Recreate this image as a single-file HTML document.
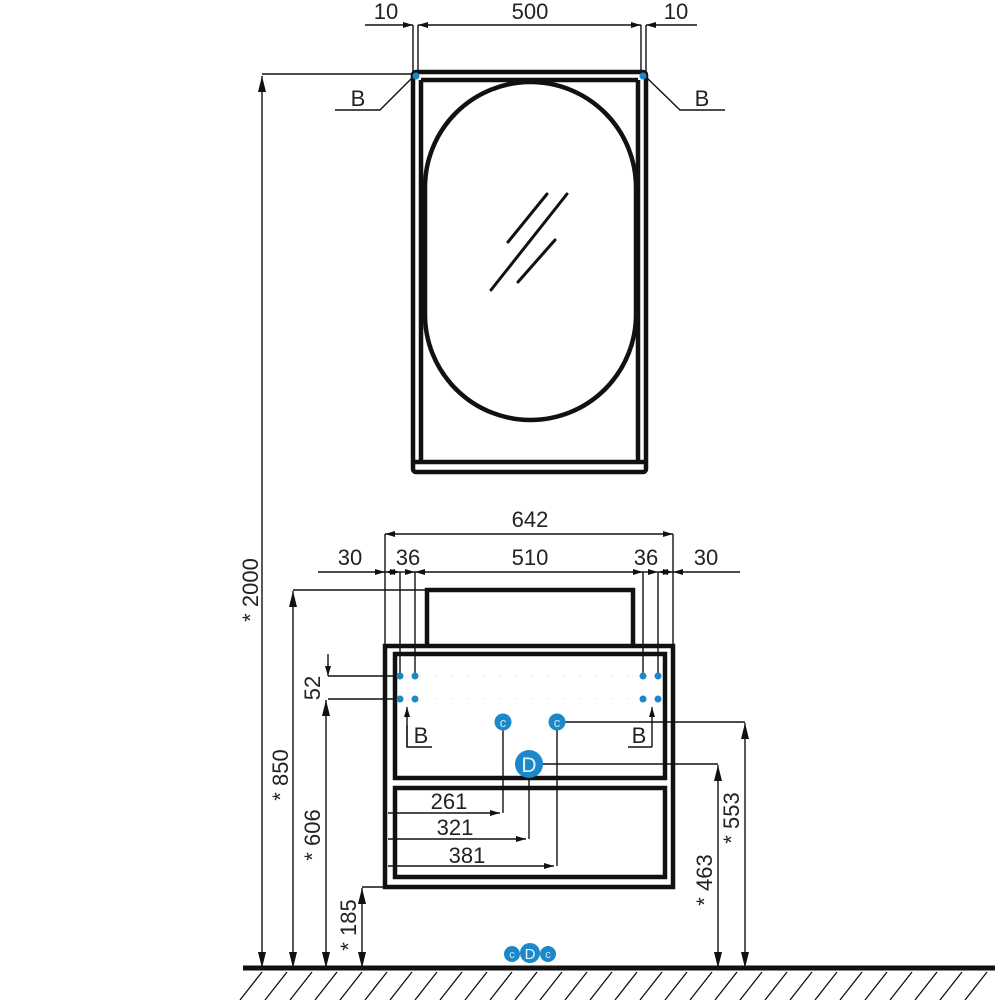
<!DOCTYPE html>
<html><head><style>
html,body{margin:0;padding:0;background:#fff;}
svg{display:block}
text{font-family:"Liberation Sans",sans-serif;font-size:22px;fill:#222;}
</style></head><body>
<svg width="1000" height="1000" viewBox="0 0 1000 1000" xmlns="http://www.w3.org/2000/svg">
<defs>
<marker id="a" viewBox="0 0 10 6" refX="10" refY="3" markerWidth="10" markerHeight="6" orient="auto-start-reverse" markerUnits="userSpaceOnUse"><path d="M0,0 L10,3 L0,6 z" fill="#111"/></marker>
<marker id="b" viewBox="0 0 16 8" refX="16" refY="4" markerWidth="16" markerHeight="8" orient="auto-start-reverse" markerUnits="userSpaceOnUse"><path d="M0,0 L16,4 L0,8 z" fill="#111"/></marker>
</defs>
<g stroke="#111" stroke-width="1.4" fill="none">
<line x1="365" y1="25" x2="413" y2="25" marker-end="url(#a)"/>
<line x1="418" y1="25" x2="641" y2="25" marker-start="url(#a)" marker-end="url(#a)"/>
<line x1="646" y1="25" x2="697" y2="25" marker-start="url(#a)"/>
<line x1="413" y1="25" x2="413" y2="72"/><line x1="418" y1="25" x2="418" y2="72"/>
<line x1="641" y1="25" x2="641" y2="72"/><line x1="646" y1="25" x2="646" y2="72"/>
<polyline points="413,77 380,110 335,110"/>
<polyline points="646,77 680,110 725,110"/>
<line x1="262" y1="74" x2="413" y2="74"/>
<line x1="262" y1="76" x2="262" y2="968" marker-start="url(#b)" marker-end="url(#b)"/>
<line x1="385" y1="534" x2="673" y2="534" marker-start="url(#a)" marker-end="url(#a)"/>
<line x1="385" y1="534" x2="385" y2="646"/><line x1="673" y1="534" x2="673" y2="646"/>
<line x1="318" y1="572" x2="385" y2="572" marker-end="url(#a)"/>
<line x1="385" y1="572" x2="400" y2="572" marker-start="url(#a)" marker-end="url(#a)"/>
<line x1="400" y1="572" x2="415" y2="572" marker-end="url(#a)"/>
<line x1="415" y1="572" x2="643" y2="572" marker-start="url(#a)" marker-end="url(#a)"/>
<line x1="643" y1="572" x2="658" y2="572" marker-end="url(#a)"/>
<line x1="658" y1="572" x2="673" y2="572" marker-start="url(#a)" marker-end="url(#a)"/>
<line x1="673" y1="572" x2="740" y2="572" marker-start="url(#a)"/>
<line x1="400" y1="572" x2="400" y2="676"/><line x1="415" y1="572" x2="415" y2="676"/>
<line x1="643" y1="572" x2="643" y2="676"/><line x1="658" y1="572" x2="658" y2="676"/>
<line x1="328" y1="676" x2="398" y2="676"/><line x1="328" y1="699" x2="398" y2="699"/>
<line x1="328" y1="654" x2="328" y2="676" marker-end="url(#a)"/>
<line x1="293" y1="590" x2="427" y2="590"/>
<line x1="293" y1="591" x2="293" y2="968" marker-start="url(#b)" marker-end="url(#b)"/>
<line x1="326" y1="700" x2="326" y2="968" marker-start="url(#b)" marker-end="url(#b)"/>
<polyline points="385,887 362,887"/>
<line x1="362" y1="888" x2="362" y2="968" marker-start="url(#b)" marker-end="url(#b)"/>
<polyline points="407,725 407,747 432,747"/>
<line x1="407" y1="747" x2="407" y2="707" marker-end="url(#a)"/>
<polyline points="652,747 628,747"/>
<line x1="652" y1="747" x2="652" y2="707" marker-end="url(#a)"/>
<polyline points="503,722 503,813"/><line x1="388" y1="813" x2="500" y2="813" marker-end="url(#a)"/>
<polyline points="529,764 529,839"/><line x1="388" y1="839" x2="526" y2="839" marker-end="url(#a)"/>
<polyline points="557,722 557,866"/><line x1="388" y1="866" x2="554" y2="866" marker-end="url(#a)"/>
<line x1="557" y1="722" x2="745" y2="722"/>
<line x1="745" y1="723" x2="745" y2="968" marker-start="url(#b)" marker-end="url(#b)"/>
<line x1="529" y1="764" x2="718" y2="764"/>
<line x1="718" y1="765" x2="718" y2="968" marker-start="url(#b)" marker-end="url(#b)"/>
<g stroke-width="1.3">
<path d="M262,972 l-22,28 M287,972 l-22,28 M312,972 l-22,28 M337,972 l-22,28 M362,972 l-22,28 M387,972 l-22,28 M412,972 l-22,28 M437,972 l-22,28 M462,972 l-22,28 M487,972 l-22,28 M512,972 l-22,28 M537,972 l-22,28 M562,972 l-22,28 M587,972 l-22,28 M612,972 l-22,28 M637,972 l-22,28 M662,972 l-22,28 M687,972 l-22,28 M712,972 l-22,28 M737,972 l-22,28 M762,972 l-22,28 M787,972 l-22,28 M812,972 l-22,28 M837,972 l-22,28 M862,972 l-22,28 M887,972 l-22,28 M912,972 l-22,28 M937,972 l-22,28 M962,972 l-22,28 M987,972 l-22,28"/>
</g>
</g>
<line x1="243" y1="968" x2="995" y2="968" stroke="#111" stroke-width="5"/>
<g stroke="#111" fill="none" stroke-width="4.5">
<rect x="413" y="72" width="233" height="400" rx="3"/>
<line x1="421" y1="80" x2="421" y2="462"/><line x1="638" y1="80" x2="638" y2="462"/>
<line x1="421" y1="80" x2="638" y2="80"/>
<line x1="413" y1="462" x2="646" y2="462"/>
<rect x="425" y="82" width="211" height="338" rx="105.5" ry="105.5"/>
</g>
<g stroke="#111" stroke-width="3" stroke-linecap="round">
<line x1="491" y1="290" x2="567" y2="194"/>
<line x1="508" y1="242" x2="547" y2="194"/>
<line x1="518" y1="282" x2="555" y2="240"/>
</g>
<g stroke="#111" fill="none" stroke-width="4.5">
<path d="M427,646 L427,590 L633,590 L633,646"/>
<rect x="385" y="646" width="288" height="241"/>
<rect x="395" y="654" width="270" height="124"/>
<rect x="395" y="788" width="270" height="89"/>
</g>
<g stroke="#ddc9a8" stroke-width="1" stroke-dasharray="1,15">
<line x1="420" y1="676" x2="640" y2="676"/><line x1="420" y1="699" x2="640" y2="699"/>
</g>
<g fill="#1a88c9">
<circle cx="416" cy="76" r="3.5"/><circle cx="643" cy="76" r="3.5"/>
<circle cx="400" cy="676" r="3.5"/><circle cx="415" cy="676" r="3.5"/>
<circle cx="400" cy="699" r="3.5"/><circle cx="415" cy="699" r="3.5"/>
<circle cx="643" cy="676" r="3.5"/><circle cx="658" cy="676" r="3.5"/>
<circle cx="643" cy="699" r="3.5"/><circle cx="658" cy="699" r="3.5"/>
<circle cx="503" cy="722" r="8.5"/><circle cx="557" cy="722" r="8.5"/>
<circle cx="529" cy="764" r="14"/>
<circle cx="512" cy="954" r="8"/><circle cx="530" cy="953" r="10"/><circle cx="548" cy="954" r="8"/>
</g>
<g text-anchor="middle">
<text x="503" y="727" style="font-size:13px;fill:#cfe6f5">c</text>
<text x="557" y="727" style="font-size:13px;fill:#cfe6f5">c</text>
<text x="529" y="772" style="font-size:21px;fill:#e6f3fb">D</text>
<text x="512" y="958" style="font-size:11px;fill:#cfe6f5">c</text>
<text x="530" y="959" style="font-size:15px;fill:#e6f3fb">D</text>
<text x="548" y="958" style="font-size:11px;fill:#cfe6f5">c</text>
</g>
<g text-anchor="middle">
<text x="386" y="19">10</text><text x="530" y="19">500</text><text x="676" y="19">10</text>
<text x="358" y="106">B</text><text x="702" y="106">B</text>
<text x="530" y="527">642</text>
<text x="350" y="565">30</text><text x="408" y="565">36</text><text x="530" y="565">510</text><text x="646" y="565">36</text><text x="706" y="565">30</text>
<text x="421" y="743">B</text><text x="639" y="743">B</text>
<text x="449" y="809">261</text><text x="455" y="835">321</text><text x="467" y="863">381</text>
<text transform="translate(320,688) rotate(-90)">52</text>
<text transform="translate(258,590) rotate(-90)">* 2000</text>
<text transform="translate(288,775) rotate(-90)">* 850</text>
<text transform="translate(320,835) rotate(-90)">* 606</text>
<text transform="translate(356,925) rotate(-90)">* 185</text>
<text transform="translate(712,880) rotate(-90)">* 463</text>
<text transform="translate(739,818) rotate(-90)">* 553</text>
</g>
</svg>
</body></html>
